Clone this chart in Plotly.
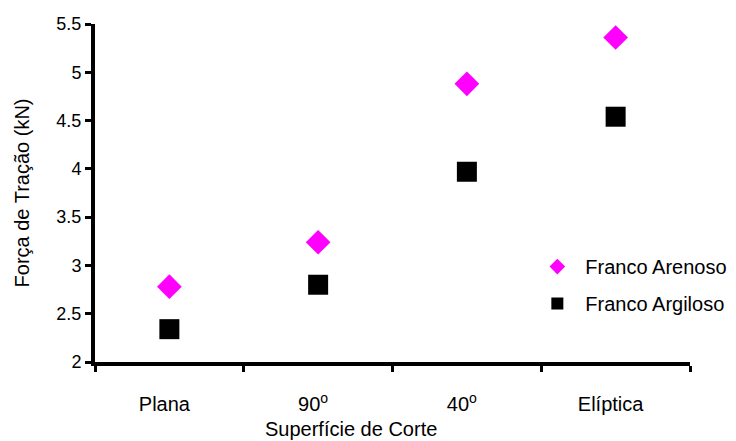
import plotly.graph_objects as go

categories = ["Plana", "90<sup>o</sup>", "40<sup>o</sup>", "Elíptica"]
arenoso = [2.78, 3.24, 4.88, 5.36]
argiloso = [2.34, 2.80, 3.97, 4.54]
y_ticks = [2, 2.5, 3, 3.5, 4, 4.5, 5, 5.5]
y_ticklabels = ["2", "2.5", "3", "3.5", "4", "4.5", "5", "5.5"]
x_title = "Superfície de Corte"
y_title = "Força de Tração (kN)"

font_family = "Arial, Liberation Sans, sans-serif"

fig = go.Figure()
fig.add_trace(go.Scatter(
    x=categories, y=arenoso, mode="markers", name="Franco Arenoso",
    legendgroup="a",
    marker=dict(symbol="diamond", size=19, color="#ff00ff"),
))
fig.add_trace(go.Scatter(
    x=categories, y=argiloso, mode="markers", name="Franco Argiloso",
    legendgroup="b",
    marker=dict(symbol="square", size=20, color="#000000"),
))

fig.update_layout(
    width=736, height=441,
    margin=dict(l=95, r=46, t=24, b=79, autoexpand=False),
    paper_bgcolor="white", plot_bgcolor="white",
    font=dict(family=font_family, color="#000000"),
    showlegend=True,
    legend=dict(x=0.73, y=0.34, xanchor="left", yanchor="top",
                font=dict(size=20), bgcolor="rgba(0,0,0,0)",
                itemsizing="constant", tracegroupgap=8, itemwidth=46),
    xaxis=dict(
        type="category", categoryorder="array", categoryarray=categories,
        range=[-0.5, 3.5], tickson="boundaries", automargin=False,
        showline=True, linecolor="black", linewidth=4,
        ticks="outside", ticklen=6, tickwidth=3, tickcolor="black",
        showgrid=False, zeroline=False,
        tickfont=dict(size=20), ticklabelstandoff=21, ticklabelshift=-5,
    ),
    yaxis=dict(
        range=[2, 5.5], tickvals=y_ticks, ticktext=y_ticklabels,
        automargin=False,
        showline=True, linecolor="black", linewidth=4,
        ticks="outside", ticklen=6, tickwidth=3, tickcolor="black",
        showgrid=False, zeroline=False,
        tickfont=dict(size=18),
        title=dict(text=y_title, font=dict(size=20), standoff=22),
    ),
    annotations=[dict(
        text=x_title, xref="paper", yref="paper", x=0.43, y=-0.197,
        xanchor="center", yanchor="middle", showarrow=False,
        font=dict(size=20),
    )],
)

fig.write_html("out.html")
